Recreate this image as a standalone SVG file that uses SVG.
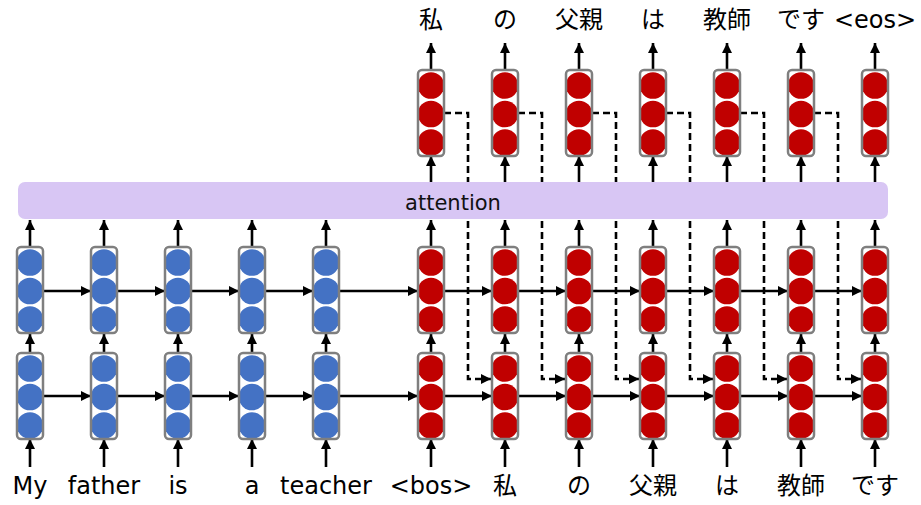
<svg xmlns="http://www.w3.org/2000/svg" xmlns:xlink="http://www.w3.org/1999/xlink" width="921" height="505" viewBox="0 0 921 505">
  <style>
    .lbl { font-family: "DejaVu Sans", "Noto Sans CJK JP", sans-serif; font-size: 24px; fill: #000; text-anchor: middle; }
    .att { font-family: "DejaVu Sans", "Noto Sans CJK JP", sans-serif; font-size: 21px; fill: #111; text-anchor: middle; }
    .arr path { stroke: #000; stroke-width: 2.6; fill: none; marker-end: url(#ah); }
    .dash path { stroke: #000; stroke-width: 2.6; fill: none; stroke-dasharray: 7 4; marker-end: url(#ah); }
    .frame { fill: none; stroke: #7f7f7f; stroke-width: 2.5; }
  </style>
  <defs>
    <marker id="ah" markerUnits="userSpaceOnUse" markerWidth="10" markerHeight="10" viewBox="0 0 10 10" refX="10" refY="5" orient="auto">
      <path d="M0,0 L10,5 L0,10 z" fill="#000"/>
    </marker>
    <clipPath id="cellClip"><rect x="1" y="1" width="24" height="84" rx="3"/></clipPath>
    <!-- LSTM cell: three units stacked in a rounded frame -->
    <g id="cellBlue">
      <rect x="0" y="0" width="26" height="86" rx="4" fill="#fff"/>
      <g clip-path="url(#cellClip)" fill="#4472C4">
        <circle cx="13" cy="15.5" r="13.3"/>
        <circle cx="13" cy="44" r="13.3"/>
        <circle cx="13" cy="72.5" r="13.3"/>
      </g>
      <rect class="frame" x="0" y="0" width="26" height="86" rx="4"/>
    </g>
    <g id="cellRed">
      <rect x="0" y="0" width="26" height="86" rx="4" fill="#fff"/>
      <g clip-path="url(#cellClip)" fill="#C00000">
        <circle cx="13" cy="15.5" r="13.3"/>
        <circle cx="13" cy="44" r="13.3"/>
        <circle cx="13" cy="72.5" r="13.3"/>
      </g>
      <rect class="frame" x="0" y="0" width="26" height="86" rx="4"/>
    </g>
  </defs>

  <rect width="921" height="505" fill="#fff"/>

  <!-- connectors -->
  <g id="connectors">
    <!-- inputs into the lower layer -->
    <g class="arr">
      <path d="M30,467V439"/><path d="M104,467V439"/><path d="M178,467V439"/><path d="M252,467V439"/><path d="M326,467V439"/>
      <path d="M431,467V439"/><path d="M505,467V439"/><path d="M579,467V439"/><path d="M653,467V439"/><path d="M727,467V439"/><path d="M801,467V439"/><path d="M875,467V439"/>
    </g>
    <!-- lower layer to upper layer -->
    <g class="arr">
      <path d="M30,353V334"/><path d="M104,353V334"/><path d="M178,353V334"/><path d="M252,353V334"/><path d="M326,353V334"/>
      <path d="M431,353V334"/><path d="M505,353V334"/><path d="M579,353V334"/><path d="M653,353V334"/><path d="M727,353V334"/><path d="M801,353V334"/><path d="M875,353V334"/>
    </g>
    <!-- upper layer to attention -->
    <g class="arr">
      <path d="M30,247V220"/><path d="M104,247V220"/><path d="M178,247V220"/><path d="M252,247V220"/><path d="M326,247V220"/>
      <path d="M431,247V220"/><path d="M505,247V220"/><path d="M579,247V220"/><path d="M653,247V220"/><path d="M727,247V220"/><path d="M801,247V220"/><path d="M875,247V220"/>
    </g>
    <!-- attention to output layer -->
    <g class="arr">
      <path d="M431,182V156"/><path d="M505,182V156"/><path d="M579,182V156"/><path d="M653,182V156"/><path d="M727,182V156"/><path d="M801,182V156"/><path d="M875,182V156"/>
    </g>
    <!-- output layer to words -->
    <g class="arr">
      <path d="M431,71V43"/><path d="M505,71V43"/><path d="M579,71V43"/><path d="M653,71V43"/><path d="M727,71V43"/><path d="M801,71V43"/><path d="M875,71V43"/>
    </g>
    <!-- recurrent links, upper layer -->
    <g class="arr">
      <path d="M43,291H91"/><path d="M117,291H165"/><path d="M191,291H239"/><path d="M265,291H313"/><path d="M339,291H418"/>
      <path d="M444,291H492"/><path d="M518,291H566"/><path d="M592,291H640"/><path d="M666,291H714"/><path d="M740,291H788"/><path d="M814,291H862"/>
    </g>
    <!-- recurrent links, lower layer -->
    <g class="arr">
      <path d="M43,396H91"/><path d="M117,396H165"/><path d="M191,396H239"/><path d="M265,396H313"/><path d="M339,396H418"/>
      <path d="M444,396H492"/><path d="M518,396H566"/><path d="M592,396H640"/><path d="M666,396H714"/><path d="M740,396H788"/><path d="M814,396H862"/>
    </g>
    <!-- input feeding: previous output fed into the next lower cell -->
    <g class="dash">
      <path d="M444,113H468V379H491"/>
      <path d="M518,113H542V379H565"/>
      <path d="M592,113H616V379H639"/>
      <path d="M666,113H690V379H713"/>
      <path d="M740,113H764V379H787"/>
      <path d="M814,113H838V379H861"/>
    </g>
  </g>

  <!-- attention layer -->
  <g id="attention">
    <rect x="18" y="182" width="870" height="37" rx="7" fill="#D8C6F4"/>
    <text class="att" x="453" y="210">attention</text>
  </g>

  <!-- encoder -->
  <g id="enc-1"><use xlink:href="#cellBlue" x="17" y="353"/><use xlink:href="#cellBlue" x="17" y="247"/></g>
  <g id="enc-2"><use xlink:href="#cellBlue" x="91" y="353"/><use xlink:href="#cellBlue" x="91" y="247"/></g>
  <g id="enc-3"><use xlink:href="#cellBlue" x="165" y="353"/><use xlink:href="#cellBlue" x="165" y="247"/></g>
  <g id="enc-4"><use xlink:href="#cellBlue" x="239" y="353"/><use xlink:href="#cellBlue" x="239" y="247"/></g>
  <g id="enc-5"><use xlink:href="#cellBlue" x="313" y="353"/><use xlink:href="#cellBlue" x="313" y="247"/></g>

  <!-- decoder -->
  <g id="dec-1"><use xlink:href="#cellRed" x="418" y="353"/><use xlink:href="#cellRed" x="418" y="247"/><use xlink:href="#cellRed" x="418" y="70"/></g>
  <g id="dec-2"><use xlink:href="#cellRed" x="492" y="353"/><use xlink:href="#cellRed" x="492" y="247"/><use xlink:href="#cellRed" x="492" y="70"/></g>
  <g id="dec-3"><use xlink:href="#cellRed" x="566" y="353"/><use xlink:href="#cellRed" x="566" y="247"/><use xlink:href="#cellRed" x="566" y="70"/></g>
  <g id="dec-4"><use xlink:href="#cellRed" x="640" y="353"/><use xlink:href="#cellRed" x="640" y="247"/><use xlink:href="#cellRed" x="640" y="70"/></g>
  <g id="dec-5"><use xlink:href="#cellRed" x="714" y="353"/><use xlink:href="#cellRed" x="714" y="247"/><use xlink:href="#cellRed" x="714" y="70"/></g>
  <g id="dec-6"><use xlink:href="#cellRed" x="788" y="353"/><use xlink:href="#cellRed" x="788" y="247"/><use xlink:href="#cellRed" x="788" y="70"/></g>
  <g id="dec-7"><use xlink:href="#cellRed" x="862" y="353"/><use xlink:href="#cellRed" x="862" y="247"/><use xlink:href="#cellRed" x="862" y="70"/></g>

  <!-- input words -->
  <g id="inputs">
    <text class="lbl" x="30" y="494">My</text>
    <text class="lbl" x="104" y="494">father</text>
    <text class="lbl" x="178" y="494">is</text>
    <text class="lbl" x="252" y="494">a</text>
    <text class="lbl" x="326" y="494">teacher</text>
    <text class="lbl" x="431" y="494">&lt;bos&gt;</text>
    <text class="lbl" x="505" y="494">私</text>
    <text class="lbl" x="579" y="494">の</text>
    <text class="lbl" x="653" y="494">父親</text>
    <text class="lbl" x="727" y="494">は</text>
    <text class="lbl" x="801" y="494">教師</text>
    <text class="lbl" x="875" y="494">です</text>
  </g>

  <!-- output words -->
  <g id="outputs">
    <text class="lbl" x="431" y="28">私</text>
    <text class="lbl" x="505" y="28">の</text>
    <text class="lbl" x="579" y="28">父親</text>
    <text class="lbl" x="653" y="28">は</text>
    <text class="lbl" x="727" y="28">教師</text>
    <text class="lbl" x="801" y="28">です</text>
    <text class="lbl" x="875" y="28">&lt;eos&gt;</text>
  </g>
</svg>
